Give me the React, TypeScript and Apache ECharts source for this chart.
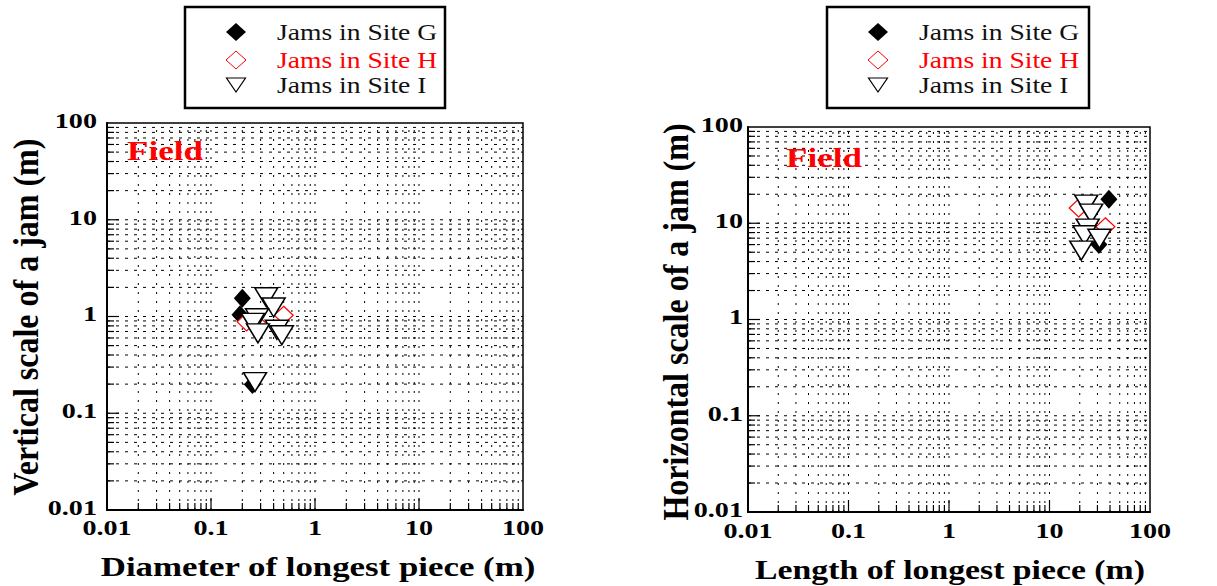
import { useEffect, useRef } from "react";
import * as echarts from "echarts";

// ---- data -------------------------------------------------------------
const tickValues = [0.01, 0.1, 1, 10, 100];
const tickLabels = ["0.01", "0.1", "1", "10", "100"];
const seriesNames = ["Jams in Site G", "Jams in Site H", "Jams in Site I"];
const panelTag = "Field";

const leftTitleX = "Diameter of longest piece (m)";
const leftTitleY = "Vertical scale of a jam (m)";
const rightTitleX = "Length of longest piece (m)";
const rightTitleY = "Horizontal scale of a jam (m)";

// Panel 1: diameter of longest piece (m) vs vertical scale of the jam (m)
const siteGDiameter = [
  [0.2, 1.54],
  [0.19, 1.04],
  [0.25, 0.198],
];
const siteHDiameter = [
  [0.5, 1.03],
  [0.22, 0.88],
  [0.285, 0.82],
];
const siteIDiameter = [
  [0.34, 1.58],
  [0.4, 1.24],
  [0.277, 0.96],
  [0.253, 0.86],
  [0.43, 0.73],
  [0.48, 0.64],
  [0.283, 0.67],
  [0.265, 0.21],
];

// Panel 2: length of longest piece (m) vs horizontal scale of the jam (m)
const siteGLength = [
  [39, 17.8],
  [31, 6.0],
];
const siteHLength = [
  [36, 9.2],
  [19.5, 14.4],
];
const siteILength = [
  [23.2, 15.6],
  [26, 12.6],
  [24, 8.8],
  [22.3, 7.5],
  [31.4, 6.9],
  [20.7, 5.2],
];

// ---- helpers ----------------------------------------------------------
const AXIS_MIN = 0.01;
const AXIS_MAX = 100;
const FONT = '"Liberation Serif", "Times New Roman", serif';

// 1..9 times every decade between the axis limits
const gridLineValues: number[] = [];
for (let e = -2; e < 2; e++) {
  for (let m = 1; m <= 9; m++) gridLineValues.push(Number((m * Math.pow(10, e)).toPrecision(3)));
}
gridLineValues.push(AXIS_MAX);

const isDecade = (v: number) => Math.abs(Math.log10(v) - Math.round(Math.log10(v))) < 1e-9;

function gridLinesSeries(idx: number) {
  return {
    type: "custom",
    xAxisIndex: idx,
    yAxisIndex: idx,
    silent: true,
    z: 1,
    data: gridLineValues.map((v) => [v, v]),
    renderItem: (_p: any, api: any) => {
      const v = api.value(0) as number;
      const major = isDecade(v);
      const [x, yBottom] = api.coord([v, AXIS_MIN]);
      const [, yTop] = api.coord([v, AXIS_MAX]);
      const [xLeft, y] = api.coord([AXIS_MIN, v]);
      const [xRight] = api.coord([AXIS_MAX, v]);
      const tick = major ? 12 : 7;
      const children: any[] = [];
      const inner = v > AXIS_MIN && v < AXIS_MAX;
      if (inner) {
        children.push(
          {
            type: "line",
            shape: { x1: x, y1: yBottom, x2: x, y2: yTop },
            style: { stroke: "#000", lineWidth: 1, lineDash: [2, 7] },
          },
          {
            type: "line",
            shape: { x1: xLeft, y1: y, x2: xRight, y2: y },
            style: { stroke: "#000", lineWidth: 1, lineDash: [3, 6] },
          },
          {
            type: "line",
            shape: { x1: x, y1: yBottom, x2: x, y2: yBottom - tick },
            style: { stroke: "#000", lineWidth: 1.2 },
          },
          {
            type: "line",
            shape: { x1: xLeft, y1: y, x2: xLeft + tick, y2: y },
            style: { stroke: "#000", lineWidth: 1.2 },
          }
        );
      }
      return { type: "group", children };
    },
  };
}

function scatterSeries(idx: number, g: number[][], h: number[][], i: number[][]) {
  return [
    {
      name: seriesNames[0],
      type: "scatter",
      xAxisIndex: idx,
      yAxisIndex: idx,
      z: 3,
      symbol: "diamond",
      symbolSize: [17, 19],
      itemStyle: { color: "#000", opacity: 1 },
      data: g,
    },
    {
      name: seriesNames[1],
      type: "scatter",
      xAxisIndex: idx,
      yAxisIndex: idx,
      z: 4,
      symbol: "diamond",
      symbolSize: [19, 18],
      itemStyle: { color: "#fff", borderColor: "#ff0000", borderWidth: 1.2, opacity: 1 },
      data: h,
    },
    {
      name: seriesNames[2],
      type: "scatter",
      xAxisIndex: idx,
      yAxisIndex: idx,
      z: 5,
      symbol: "triangle",
      symbolRotate: 180,
      symbolSize: [23, 19],
      itemStyle: { color: "#fff", borderColor: "#000", borderWidth: 1.5, opacity: 1 },
      data: i,
    },
  ];
}

function logAxis(idx: number) {
  return {
    gridIndex: idx,
    type: "log",
    logBase: 10,
    min: AXIS_MIN,
    max: AXIS_MAX,
    axisLine: { show: true, onZero: false, lineStyle: { color: "#000", width: 2 } },
    axisTick: { show: false },
    axisLabel: { show: false },
    splitLine: { show: false },
  };
}

function text(
  str: string,
  x: number,
  y: number,
  size: number,
  opts: { bold?: boolean; fill?: string; align?: string; scaleX?: number; scaleY?: number; rotation?: number } = {}
) {
  const align = opts.align ?? "center";
  return {
    type: "text",
    x,
    y,
    z: 10,
    scaleX: opts.scaleX ?? 1.3,
    scaleY: opts.scaleY ?? 1,
    rotation: opts.rotation ?? 0,
    silent: true,
    style: {
      text: str,
      fontFamily: FONT,
      fontSize: size,
      fontWeight: opts.bold === false ? "normal" : "bold",
      fill: opts.fill ?? "#000",
      align,
      verticalAlign: "middle",
      textAlign: align,
      textVerticalAlign: "middle",
    },
  };
}

function legendBox(left: number, top: number, width: number) {
  const mx = left + 51;
  const tx = left + 92;
  const rows = [32, 60, 85];
  return [
    {
      type: "rect",
      z: 10,
      silent: true,
      shape: { x: left, y: top, width, height: 101 },
      style: { fill: "#fff", stroke: "#000", lineWidth: 2.5 },
    },
    {
      type: "polygon",
      z: 11,
      silent: true,
      shape: { points: [[mx - 10, rows[0]], [mx, rows[0] - 9], [mx + 10, rows[0]], [mx, rows[0] + 9]] },
      style: { fill: "#000" },
    },
    {
      type: "polygon",
      z: 11,
      silent: true,
      shape: { points: [[mx - 10, rows[1]], [mx, rows[1] - 9], [mx + 10, rows[1]], [mx, rows[1] + 9]] },
      style: { fill: "#fff", stroke: "#ff0000", lineWidth: 1 },
    },
    {
      type: "polygon",
      z: 11,
      silent: true,
      shape: { points: [[mx - 9.5, rows[2] - 7], [mx + 9.5, rows[2] - 7], [mx, rows[2] + 7]] },
      style: { fill: "#fff", stroke: "#000", lineWidth: 1.2 },
    },
    text(seriesNames[0], tx, rows[0], 23, { bold: false, align: "left", scaleX: 1.2, fill: "#111" }),
    text(seriesNames[1], tx, rows[1], 23, { bold: false, align: "left", scaleX: 1.2, fill: "#ff0000" }),
    text(seriesNames[2], tx, rows[2], 23, { bold: false, align: "left", scaleX: 1.2, fill: "#111" }),
  ];
}

export default function App() {
  const ref = useRef<HTMLDivElement>(null);

  useEffect(() => {
    if (!ref.current) return;
    const chart = echarts.init(ref.current, undefined, { renderer: "svg" });

    chart.setOption({
      animation: false,
      backgroundColor: "#fff",
      grid: [
        { left: 107, top: 123, width: 416, height: 387, show: true, borderColor: "#000", borderWidth: 1.5 },
        { left: 748, top: 127, width: 402, height: 385, show: true, borderColor: "#000", borderWidth: 1.5 },
      ],
      xAxis: [logAxis(0), logAxis(1)],
      yAxis: [logAxis(0), logAxis(1)],
      series: [
        gridLinesSeries(0),
        gridLinesSeries(1),
        ...scatterSeries(0, siteGDiameter, siteHDiameter, siteIDiameter),
        ...scatterSeries(1, siteGLength, siteHLength, siteILength),
      ],
    });

    // tick labels placed through the axes' own scales
    const labels: any[] = [];
    const labelOffsets = [
      { xLabelY: 527, yLabelX: 97 },
      { xLabelY: 530, yLabelX: 743 },
    ];
    [0, 1].forEach((g) => {
      tickValues.forEach((v, k) => {
        const px = chart.convertToPixel({ xAxisIndex: g }, v) as number;
        const py = chart.convertToPixel({ yAxisIndex: g }, v) as number;
        labels.push(text(tickLabels[k], px, labelOffsets[g].xLabelY, 22, { scaleX: 1.28 }));
        labels.push(text(tickLabels[k], labelOffsets[g].yLabelX, py - 3, 22, { align: "right", scaleX: 1.28 }));
      });
    });

    chart.setOption({
      graphic: [
        ...labels,
        text(leftTitleX, 318, 567, 27, { scaleX: 1.29 }),
        text(rightTitleX, 950, 570, 27, { scaleX: 1.25 }),
        text(leftTitleY, 26, 317, 32, { scaleX: 1, scaleY: 1.1, rotation: Math.PI / 2 }),
        text(rightTitleY, 676, 322, 32, { scaleX: 1, scaleY: 1.1, rotation: Math.PI / 2 }),
        text(panelTag, 165, 151, 28, { fill: "#ff0000", scaleX: 1.25 }),
        text(panelTag, 824, 158, 28, { fill: "#ff0000", scaleX: 1.25 }),
        ...legendBox(185, 7, 260),
        ...legendBox(827, 7, 262),
      ],
    });

    return () => chart.dispose();
  }, []);

  return (
    <div
      ref={ref}
      style={{ position: "absolute", left: 0, top: 0, width: 1217, height: 586, background: "#fff" }}
    />
  );
}
